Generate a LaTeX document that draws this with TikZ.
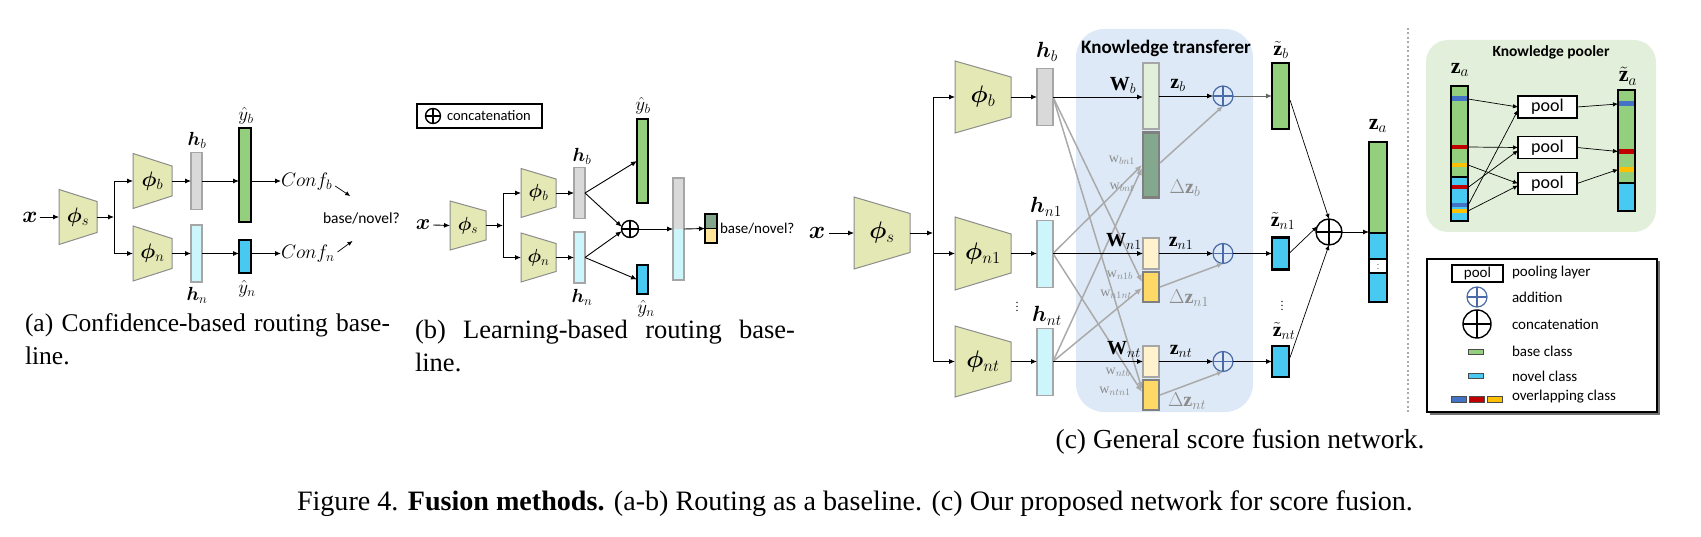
\documentclass[tikz,border=0pt]{standalone}
\usepackage{fix-cm}
\usepackage{amsmath,bm}
\usepackage{fontspec}
\setmainfont{Liberation Serif}
\newfontfamily\carl{Carlito}
\usetikzlibrary{arrows.meta,calc}
\definecolor{trapf}{RGB}{227,232,181}
\definecolor{trapd}{RGB}{140,140,140}
\definecolor{hgray}{RGB}{217,217,217}
\definecolor{hcyan}{RGB}{204,245,252}
\definecolor{bgray}{RGB}{166,166,166}
\definecolor{ygreen}{RGB}{148,207,125}
\definecolor{yblue}{RGB}{72,201,242}
\definecolor{dgreen}{RGB}{130,165,140}
\definecolor{lyel}{RGB}{255,229,153}
\definecolor{ktbg}{RGB}{221,233,246}
\definecolor{kpbg}{RGB}{226,239,218}
\definecolor{zlgreen}{RGB}{226,239,218}
\definecolor{zlyel}{RGB}{255,242,204}
\definecolor{dzyel}{RGB}{255,217,102}
\definecolor{dzgreen}{RGB}{132,168,142}
\definecolor{dzbord}{RGB}{128,128,128}
\definecolor{addblue}{RGB}{74,107,165}
\definecolor{lgray}{RGB}{170,170,170}
\definecolor{tgray}{RGB}{140,140,140}
\definecolor{sblue}{RGB}{68,114,196}
\definecolor{sred}{RGB}{192,0,0}
\definecolor{syel}{RGB}{255,192,0}
\newcommand{\fsz}[1]{\fontsize{#1}{#1}\selectfont}
% name, cx, cy, w, hL, hR, label
\newcommand{\trap}[7]{%
  \filldraw[fill=trapf, draw=trapd, line width=1pt] ({#2-#4/2},{#3-#5/2}) -- ({#2+#4/2},{#3-#6/2}) -- ({#2+#4/2},{#3+#6/2}) -- ({#2-#4/2},{#3+#5/2}) -- cycle;
  \node[inner sep=0, outer sep=0, minimum width=#4, minimum height=#5] (#1) at (#2,#3) {#7};
}
\begin{document}
\begin{tikzpicture}[x=1pt,y=-1pt,
  arr/.style={-{Latex[length=6pt,width=5pt]}, line width=0.9pt},
  sarr/.style={-{Latex[length=5pt,width=4.5pt]}, line width=0.7pt},
  garr/.style={-{Latex[length=7pt,width=6pt]}, line width=1.5pt, draw=lgray},
  gbar/.style={draw=bgray, line width=1.3pt, inner sep=0, outer sep=0},
  kbar/.style={draw=black, line width=2.4pt, inner sep=0, outer sep=0},
  dbar/.style={draw=dzbord, line width=2.6pt, inner sep=0, outer sep=0},
  lab/.style={inner sep=0, outer sep=0},
  addc/.style={circle, draw=addblue, line width=1.2pt, inner sep=0, outer sep=0, minimum size=#1,
    path picture={\draw[addblue, line width=1.2pt] (path picture bounding box.north) -- (path picture bounding box.south) (path picture bounding box.west) -- (path picture bounding box.east);}},
  catc/.style={circle, draw=black, line width=1.4pt, inner sep=0, outer sep=0, minimum size=#1,
    path picture={\draw[black, line width=1.4pt] (path picture bounding box.north) -- (path picture bounding box.south) (path picture bounding box.west) -- (path picture bounding box.east);}},
  poolbox/.style={draw, line width=1.3pt, fill=white, inner sep=0, outer sep=0},
]
\useasboundingbox (0,0) rectangle (1701,537);

%%%%%%%%%%%%%%%% (a)
\node[lab, font=\fsz{23}] (xa) at (30,217) {$\bm{x}$};
\trap{phisa}{78}{217}{38}{55}{31}{\fsz{21}$\bm{\phi}_s$}
\coordinate (ja) at (114,217);
\trap{phiba}{152.5}{181}{39}{55}{30}{\fsz{21}$\bm{\phi}_b$}
\trap{phina}{152.5}{253.5}{39}{55}{30}{\fsz{21}$\bm{\phi}_n$}
\draw[arr] ([xshift=2pt]xa.east) -- (phisa.west);
\draw[arr] (phisa.east) -- (ja);
\draw[arr] (ja) |- (phiba.west);
\draw[arr] (ja) |- (phina.west);
\node[gbar, fill=hgray, minimum width=11, minimum height=57] (hba) at (196.5,181) {};
\node[gbar, fill=hcyan, minimum width=11, minimum height=57] (hna) at (196.5,253.5) {};
\node[lab, font=\fsz{19}] (hbal) at (197,140) {$\bm{h}_b$};
\node[lab, font=\fsz{19}] (hnal) at (197,295) {$\bm{h}_n$};
\draw[arr] (phiba.east) -- (hba.west);
\draw[arr] (phina.east) -- (hna.west);
\node[kbar, fill=ygreen, minimum width=12, minimum height=94] (yba) at (245,175) {};
\node[kbar, fill=yblue, minimum width=12, minimum height=33] (yna) at (245,256.5) {};
\node[lab, font=\fsz{19}] (ybal) at (246,116) {$\hat{y}_b$};
\node[lab, font=\fsz{19}] (ynal) at (247,289) {$\hat{y}_n$};
\draw[arr] (hba.east) -- (hba.east -| yba.west);
\draw[arr] (hna.east) -- (hna.east -| yna.west);
\node[lab, font=\fsz{19.5}, anchor=west] (confb) at (281,182) {$Conf_b$};
\node[lab, font=\fsz{19.5}, anchor=west] (confn) at (281,254) {$Conf_n$};
\draw[arr] (yba.east |- hba.east) -- (confb.west |- hba.east);
\draw[arr] (yna.east |- hna.east) -- (confn.west |- hna.east);
\draw[sarr] ($(confb.east)+(3,4)$) -- ++(15,10);
\draw[sarr] ($(confn.east)+(3,-2)$) -- ++(15,-11);
\node[lab, font=\carl\fsz{15.5}, anchor=west] (bna) at (323,218) {base/novel?};

%%%%%%%%%%%%%%%% (b)
\node[draw, line width=1.2pt, minimum width=125, minimum height=24, inner sep=0] (legb) at (479.5,116) {};
\node[catc=15] (legbc) at (433,116) {};
\node[lab, anchor=west, font=\carl\fsz{14.5}] (legbt) at (447,116) {concatenation};
\node[lab, font=\fsz{22}] (xb) at (423,225) {$\bm{x}$};
\trap{phisb}{468}{225.5}{36}{49}{29}{\fsz{19}$\bm{\phi}_s$}
\coordinate (jb) at (503,225.5);
\trap{phibb}{538.5}{193}{35}{49}{28}{\fsz{19}$\bm{\phi}_b$}
\trap{phinb}{538.5}{257.5}{35}{49}{28}{\fsz{19}$\bm{\phi}_n$}
\draw[arr] ([xshift=3pt]xb.east) -- (phisb.west);
\draw[arr] (phisb.east) -- (jb);
\draw[arr] (jb) |- (phibb.west);
\draw[arr] (jb) |- (phinb.west);
\node[gbar, fill=hgray, minimum width=11, minimum height=51] (hbb) at (579.5,193) {};
\node[gbar, fill=hcyan, minimum width=11, minimum height=51] (hnb) at (579.5,257.5) {};
\node[lab, font=\fsz{19}] (hbbl) at (582,156) {$\bm{h}_b$};
\node[lab, font=\fsz{19}] (hnbl) at (582,297) {$\bm{h}_n$};
\draw[arr] (phibb.east) -- (hbb.west);
\draw[arr] (phinb.east) -- (hnb.west);
\node[kbar, fill=ygreen, minimum width=11, minimum height=84] (ybb) at (642.5,161) {};
\node[kbar, fill=yblue, minimum width=11, minimum height=29] (ynb) at (642.5,279.5) {};
\node[lab, font=\fsz{19}] (ybbl) at (643,106) {$\hat{y}_b$};
\node[lab, font=\fsz{19}] (ynbl) at (646,309) {$\hat{y}_n$};
\node[catc=17] (catb) at (630,229) {};
\draw[arr] (hbb.east) -- (ybb.west);
\draw[arr] (hbb.east) -- (catb.165);
\draw[arr] (hnb.east) -- (catb.195);
\draw[arr] (hnb.east) -- (ynb.west);
\fill[hgray] (673,178) rectangle (684,229);
\fill[hcyan] (673,229) rectangle (684,280);
\node[gbar, minimum width=11, minimum height=102] (cbar) at (678.5,229) {};
\draw[arr] (catb.east) -- (cbar.west);
\fill[dgreen] (705,214) rectangle (717,228.5);
\fill[lyel] (705,228.5) rectangle (717,243);
\draw[line width=1.5pt] (705,228.5) -- (717,228.5);
\node[kbar, line width=2pt, minimum width=12, minimum height=29] (outb) at (711,228.5) {};
\draw[arr] (cbar.east) -- (outb.west);
\node[lab, anchor=west, font=\carl\fsz{15}] (bnb) at (720,229) {base/novel?};

%%%%%%%%%%%%%%%% (c)
\fill[ktbg, rounded corners=28pt] (1076,29) rectangle (1253,412);
\node[lab, font=\carl\bfseries\fsz{19}] (ktt) at (1166,48) {Knowledge transferer};
\node[lab, font=\fsz{25}] (xc) at (817,233) {$\bm{x}$};
\trap{phisc}{882}{233}{56}{72}{39}{\fsz{24}$\bm{\phi}_s$}
\coordinate (jc) at (933,233);
\trap{phibc}{983}{97}{56}{72}{40}{\fsz{24}$\bm{\phi}_b$}
\trap{phin1c}{983}{253.5}{56}{73}{39}{\fsz{24}$\bm{\phi}_{n1}$}
\trap{phintc}{983}{361.5}{56}{71}{39}{\fsz{24}$\bm{\phi}_{nt}$}
\draw[arr] ([xshift=4pt]xc.east) -- (phisc.west);
\draw[arr] (phisc.east) -- (jc);
\draw[arr] (jc) |- (phibc.west);
\draw[arr] (jc) |- (phin1c.west);
\draw[arr] (jc) |- (phintc.west);
\node[gbar, fill=hgray, minimum width=16, minimum height=57] (hbc) at (1045,97) {};
\node[gbar, fill=hcyan, minimum width=16, minimum height=67] (hn1c) at (1045,254) {};
\node[gbar, fill=hcyan, minimum width=16, minimum height=67] (hntc) at (1045,362) {};
\node[lab, font=\fsz{22}] (hbcl) at (1047,52) {$\bm{h}_b$};
\node[lab, font=\fsz{22}] (hn1cl) at (1046,207) {$\bm{h}_{n1}$};
\node[lab, font=\fsz{22}] (hntcl) at (1047,316) {$\bm{h}_{nt}$};
\node[lab, font=\fsz{12}] (vd1) at (1017,304) {$\vdots$};
\draw[arr] (phibc.east) -- (hbc.west |- phibc.east);
\draw[arr] (phin1c.east) -- (hn1c.west |- phin1c.east);
\draw[arr] (phintc.east) -- (hntc.west |- phintc.east);
% transfer bars
\node[gbar, fill=zlgreen, minimum width=16, minimum height=66] (zb) at (1151,96) {};
\node[dbar, fill=dzgreen, minimum width=16, minimum height=65] (dzb) at (1151,165) {};
\node[gbar, fill=zlyel, minimum width=16, minimum height=31] (zn1) at (1151,253.5) {};
\node[dbar, fill=dzyel, minimum width=16, minimum height=30] (dzn1) at (1151,287) {};
\node[gbar, fill=zlyel, minimum width=16, minimum height=31] (znt) at (1151,361.5) {};
\node[dbar, fill=dzyel, minimum width=16, minimum height=30] (dznt) at (1151,395) {};
% gray cross arrows
\draw[garr] (hbc.east |- phibc.east) -- ($(dzn1.west)+(-1,-5)$);
\draw[garr] (hbc.east |- phibc.east) -- ($(dznt.west)+(-1,-6)$);
\draw[garr] (hn1c.east |- phin1c.east) -- ($(dzb.west)+(-1,0)$);
\draw[garr] (hn1c.east |- phin1c.east) -- ($(dznt.west)+(-1,-3)$);
\draw[garr] (hntc.east |- phintc.east) -- ($(dzb.west)+(-1,3)$);
\draw[garr] (hntc.east |- phintc.east) -- ($(dzn1.west)+(-1,1)$);
% main arrows
\draw[arr] (hbc.east |- phibc.east) -- (zb.west |- phibc.east);
\draw[arr] (hn1c.east |- phin1c.east) -- (zn1.west |- phin1c.east);
\draw[arr] (hntc.east |- phintc.east) -- (znt.west |- phintc.east);
\node[lab, font=\fsz{20}] (wb) at (1123,85) {$\mathbf{W}_{b}$};
\node[lab, font=\fsz{20}] (wn1) at (1124,241) {$\mathbf{W}_{n1}$};
\node[lab, font=\fsz{20}] (wnt) at (1124,349) {$\mathbf{W}_{nt}$};
\node[lab, font=\fsz{14}, text=tgray] (wbn1) at (1122,160) {$\mathrm{w}_{bn1}$};
\node[lab, font=\fsz{14}, text=tgray] (wbnt) at (1122,187) {$\mathrm{w}_{bnt}$};
\node[lab, font=\fsz{14}, text=tgray] (wn1b) at (1120,275) {$\mathrm{w}_{n1b}$};
\node[lab, font=\fsz{14}, text=tgray] (wn1nt) at (1116,294) {$\mathrm{w}_{n1nt}$};
\node[lab, font=\fsz{14}, text=tgray] (wntb) at (1118,372) {$\mathrm{w}_{ntb}$};
\node[lab, font=\fsz{14}, text=tgray] (wntn1) at (1115,391) {$\mathrm{w}_{ntn1}$};
\node[lab, font=\fsz{20}] (zbl) at (1178,85) {$\mathbf{z}_{b}$};
\node[lab, font=\fsz{20}] (zn1l) at (1181,243) {$\mathbf{z}_{n1}$};
\node[lab, font=\fsz{20}] (zntl) at (1181,351) {$\mathbf{z}_{nt}$};
\node[lab, font=\fsz{20}, text=tgray] (dzbl) at (1185,188) {$\Delta\mathbf{z}_{b}$};
\node[lab, font=\fsz{20}, text=tgray] (dzn1l) at (1189,298) {$\Delta\mathbf{z}_{n1}$};
\node[lab, font=\fsz{20}, text=tgray] (dzntl) at (1187,401) {$\Delta\mathbf{z}_{nt}$};
\node[addc=20] (addb) at (1223,96) {};
\node[addc=20] (addn1) at (1223,253.5) {};
\node[addc=20] (addnt) at (1223,361.5) {};
\draw[arr] (zb.east) -- (addb.west);
\draw[arr] (zn1.east) -- (addn1.west);
\draw[arr] (znt.east) -- (addnt.west);
\draw[garr, -{Latex[length=6pt,width=5pt]}] ($(dzb.east)+(1,-2)$) -- (addb.south);
\draw[garr, -{Latex[length=6pt,width=5pt]}] ($(dzn1.east)+(1,0)$) -- (addn1.south);
\draw[garr, -{Latex[length=6pt,width=5pt]}] ($(dznt.east)+(1,0)$) -- (addnt.south);
% fused outputs
\node[kbar, fill=ygreen, minimum width=17, minimum height=66] (tzb) at (1280.5,96) {};
\node[kbar, fill=yblue, minimum width=17, minimum height=32] (tzn1) at (1280.5,253.5) {};
\node[kbar, fill=yblue, minimum width=17, minimum height=31] (tznt) at (1280.5,361.5) {};
\node[lab, font=\fsz{20}] (tzbl) at (1281,50) {$\tilde{\mathbf{z}}_{b}$};
\node[lab, font=\fsz{20}] (tzn1l) at (1283,221) {$\tilde{\mathbf{z}}_{n1}$};
\node[lab, font=\fsz{20}] (tzntl) at (1284,331) {$\tilde{\mathbf{z}}_{nt}$};
\node[lab, font=\fsz{12}] (vd2) at (1282,303) {$\vdots$};
\draw[arr, draw=black!60] (addb.east) -- (tzb.west);
\draw[arr] (addn1.east) -- (tzn1.west);
\draw[arr] (addnt.east) -- (tznt.west);
% concat
\node[catc=26] (catc1) at (1329,232) {};
\draw[sarr] ($(tzb.east)+(1,4)$) -- (catc1.north);
\draw[sarr] (tzn1.east) -- (catc1.155);
\draw[sarr] ($(tznt.east)+(1,-4)$) -- (catc1.south);
\fill[ygreen] (1369,142) rectangle (1387,233);
\fill[yblue] (1369,233) rectangle (1387,259);
\fill[white] (1369,259) rectangle (1387,273);
\fill[yblue] (1369,273) rectangle (1387,302);
\draw[line width=2pt] (1369,233) -- (1387,233) (1369,259) -- (1387,259) (1369,273) -- (1387,273);
\node[kbar, minimum width=18, minimum height=160] (zac) at (1378,222) {};
\node[lab, font=\fsz{8}] (vd3) at (1378,266) {$\vdots$};
\node[lab, font=\fsz{22}] (zacl) at (1378,126) {$\mathbf{z}_{a}$};
\draw[arr] (catc1.east) -- (zac.west |- catc1.east);
% divider
\draw[lgray, line width=1.2pt, dash pattern=on 2pt off 2.5pt] (1408,28) -- (1408,414);

%%%%%%%%%%%%%%%% Knowledge pooler
\fill[kpbg, rounded corners=22pt] (1426,40) rectangle (1656,232);
\node[lab, font=\carl\bfseries\fsz{15.5}] (kpt) at (1551,52) {Knowledge pooler};
\fill[ygreen] (1451,86) rectangle (1468,177);
\fill[yblue] (1451,177) rectangle (1468,221);
\fill[sblue] (1451,96.5) rectangle (1468,101);
\fill[sred] (1451,145) rectangle (1468,149.5);
\fill[syel] (1451,163) rectangle (1468,167.5);
\fill[sred] (1451,185.5) rectangle (1468,189.5);
\fill[sblue] (1451,203.5) rectangle (1468,207.5);
\fill[syel] (1451,209) rectangle (1468,213);
\draw[line width=2pt] (1451,177) -- (1468,177);
\node[kbar, line width=2.2pt, minimum width=17, minimum height=135] (zap) at (1459.5,153.5) {};
\node[lab, font=\fsz{22}] (zapl) at (1460,70) {$\mathbf{z}_{a}$};
\node[poolbox, minimum width=59, minimum height=22, font=\carl\fsz{18}] (pool1) at (1547.5,107) {pool};
\node[poolbox, minimum width=59, minimum height=22, font=\carl\fsz{18}] (pool2) at (1547.5,147.5) {pool};
\node[poolbox, minimum width=59, minimum height=22, font=\carl\fsz{18}] (pool3) at (1547.5,183.5) {pool};
\draw[sarr] (1468,99) -- ($(pool1.west)+(0,0)$);
\draw[sarr] (1468,147) -- (pool2.west);
\draw[sarr] (1468,165) -- ($(pool3.west)+(0,0)$);
\draw[sarr] (1468,187.5) -- ($(pool2.west)+(0,3)$);
\draw[sarr] (1468,205.5) -- ($(pool1.west)+(0,3)$);
\draw[sarr] (1468,211) -- ($(pool3.west)+(0,2)$);
\fill[ygreen] (1618,90) rectangle (1635,183);
\fill[yblue] (1618,183) rectangle (1635,211);
\fill[sblue] (1618,101) rectangle (1635,106);
\fill[sred] (1618,149) rectangle (1635,154);
\fill[syel] (1618,167) rectangle (1635,172);
\draw[line width=2pt] (1618,183) -- (1635,183);
\node[kbar, line width=2.2pt, minimum width=17, minimum height=121] (tza) at (1626.5,150.5) {};
\node[lab, font=\fsz{22}] (tzal) at (1628,76) {$\tilde{\mathbf{z}}_{a}$};
\draw[sarr] (pool1.east) -- (1618,104);
\draw[sarr] (pool2.east) -- (1618,151.5);
\draw[sarr] (pool3.east) -- (1618,169.5);

%%%%%%%%%%%%%%%% Legend
\fill[black!55] (1429.5,261.5) rectangle (1659.5,414.5);
\node[draw, line width=1.2pt, fill=white, inner sep=0, minimum width=230, minimum height=153] (leg) at (1542,335.5) {};
\node[poolbox, minimum width=51, minimum height=17, font=\carl\fsz{15}] (legpool) at (1477.5,273.5) {pool};
\node[addc=20] (legadd) at (1477,297) {};
\node[catc=28] (legcat) at (1477,324) {};
\node[draw=black!70, line width=0.6pt, fill=ygreen, inner sep=0, minimum width=15, minimum height=5] (legbase) at (1475.5,351.5) {};
\node[draw=black!70, line width=0.6pt, fill=yblue, inner sep=0, minimum width=15, minimum height=5] (legnovel) at (1475.5,375.5) {};
\node[draw=black!70, line width=0.6pt, fill=sblue, inner sep=0, minimum width=15, minimum height=6] (lego1) at (1459,399.5) {};
\node[draw=black!70, line width=0.6pt, fill=sred, inner sep=0, minimum width=15, minimum height=6] (lego2) at (1477,399.5) {};
\node[draw=black!70, line width=0.6pt, fill=syel, inner sep=0, minimum width=15, minimum height=6] (lego3) at (1495,399.5) {};
\node[lab, anchor=west, font=\carl\fsz{15}] (legt1) at (1512,273) {pooling layer};
\node[lab, anchor=west, font=\carl\fsz{15}] (legt2) at (1512,297) {addition};
\node[lab, anchor=west, font=\carl\fsz{15}] (legt3) at (1512,324) {concatenation};
\node[lab, anchor=west, font=\carl\fsz{15}] (legt4) at (1512,351) {base class};
\node[lab, anchor=west, font=\carl\fsz{15}] (legt5) at (1512,376) {novel class};
\node[lab, anchor=west, font=\carl\fsz{15}] (legt6) at (1512,397) {overlapping class};

%%%%%%%%%%%%%%%% Captions
\node[lab, anchor=north west, font=\fontsize{25.5}{33}\selectfont] (capa) at (25,314) {\parbox{365pt}{(a) Confidence-based routing base-\linebreak line.}};
\node[lab, anchor=north west, font=\fontsize{26.5}{33}\selectfont] (capb) at (415,320) {\parbox{380pt}{(b) Learning-based routing base-\linebreak line.}};
\node[lab, font=\fsz{27.5}] (capc) at (1240,442) {(c) General score fusion network.};
\node[lab, font=\fsz{28.1}] (capm) at (855,504) {Figure 4. \textbf{Fusion methods.} (a-b) Routing as a baseline. (c) Our proposed network for score fusion.};
\end{tikzpicture}
\end{document}
